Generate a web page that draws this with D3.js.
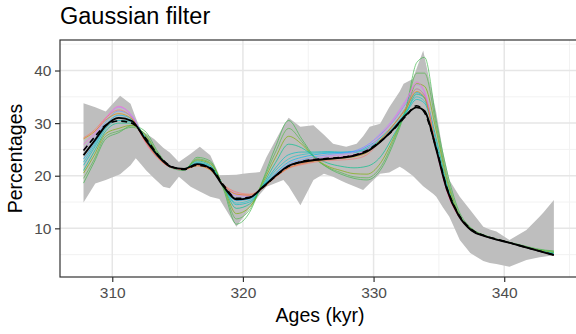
<!DOCTYPE html>
<html>
<head>
<meta charset="utf-8">
<script src="https://cdn.jsdelivr.net/npm/d3@7"></script>
<style>
  body { margin: 0; background: #fff; }
  svg { display: block; font-family: "Liberation Sans", Arial, sans-serif; }
  .tick text { fill: #4d4d4d; font-size: 15.5px; }
  .tick line { stroke: #333; }
</style>
</head>
<body>
<div id="chart"></div>
<script>
// ages shared by the filtered series (kyr)
const ages = [307.8, 308.6, 309.5, 310.5, 311.5, 312.5, 313.5, 314.5, 315.5, 316.5,
  317.5, 318.5, 319.5, 320.5, 321.5, 322.5, 323.5, 324.5, 325.5, 326.5,
  327.5, 328.5, 329.5, 330.5, 331.5, 332.5, 333.3, 333.9, 334.8, 335.6,
  336.5, 337.5, 338.5, 339.5, 340.5, 341.5, 342.5, 343.8];

// mean of filtered runs (solid black) and reference run (dashed black)
const meanLine = [23.9, 26.5, 29.5, 31.0, 30.4, 27.0, 23.8, 21.7, 21.3, 22.2,
  21.4, 18.0, 15.5, 15.8, 17.8, 20.0, 21.9, 22.6, 23.0, 23.2,
  23.4, 23.8, 24.6, 26.4, 28.8, 31.6, 33.0, 32.3, 25.0, 17.5,
  12.5, 9.6, 8.5, 7.8, 7.2, 6.5, 5.8, 4.9];
const dashLine = [24.8, 27.2, 29.6, 30.4, 30.0, 27.3, 24.0, 21.8, 21.2, 22.0,
  21.5, 18.3, 15.7, 15.9, 17.7, 19.9, 21.8, 22.7, 23.1, 23.3,
  23.5, 23.9, 24.8, 26.5, 28.7, 31.4, 33.3, 32.0, 25.2, 17.8,
  12.7, 9.8, 8.6, 7.9, 7.2, 6.5, 5.8, 5.0];

// individual filtered runs
const runs = [
  [18.6, 22.5, 27.0, 28.2, 29.5, 28.5, 24.5, 21.5, 21.0, 23.5, 22.8, 17.5, 10.8, 13.0, 19.0, 25.5, 30.5, 27.0, 23.5, 21.5, 20.3, 19.5, 19.2, 21.0, 26.0, 33.0, 41.5, 42.5, 30.5, 21.0, 13.5, 10.0, 8.7, 7.9, 7.3, 6.7, 6.1, 5.7],
  [19.5, 23.0, 27.5, 28.5, 29.2, 28.0, 24.2, 21.6, 21.2, 23.2, 22.5, 17.8, 11.8, 13.5, 18.8, 24.5, 29.0, 26.5, 23.3, 21.6, 20.6, 19.8, 19.6, 21.5, 26.5, 33.0, 39.5, 39.5, 29.5, 20.0, 13.0, 9.9, 8.6, 7.8, 7.2, 6.6, 6.0, 5.6],
  [20.5, 23.8, 28.0, 29.0, 29.6, 27.8, 24.0, 21.6, 21.3, 23.0, 22.3, 18.0, 12.8, 14.0, 18.5, 23.5, 27.5, 26.0, 23.4, 21.8, 21.0, 20.4, 20.3, 22.3, 27.0, 32.5, 37.5, 37.0, 28.5, 19.3, 12.7, 9.8, 8.6, 7.8, 7.2, 6.5, 5.9, 5.4],
  [21.0, 24.5, 28.5, 30.0, 30.0, 27.5, 23.9, 21.6, 21.3, 22.8, 22.0, 18.0, 13.8, 14.6, 18.2, 22.5, 26.0, 25.3, 23.6, 22.4, 21.8, 21.5, 21.8, 23.5, 27.5, 32.0, 35.5, 34.8, 27.0, 18.5, 12.5, 9.7, 8.6, 7.8, 7.2, 6.5, 5.8, 5.3],
  [22.0, 25.2, 29.0, 30.5, 30.3, 27.3, 23.8, 21.7, 21.3, 22.5, 21.8, 18.1, 14.5, 15.0, 18.0, 21.5, 24.0, 24.5, 24.5, 24.6, 24.5, 24.6, 25.2, 26.8, 29.0, 32.0, 34.5, 33.8, 26.0, 18.0, 12.4, 9.6, 8.5, 7.8, 7.2, 6.5, 5.8, 5.2],
  [22.6, 25.6, 29.3, 31.0, 30.6, 27.2, 23.7, 21.6, 21.2, 22.4, 21.6, 18.0, 14.8, 15.3, 18.0, 21.0, 23.2, 24.0, 24.3, 24.4, 24.3, 24.4, 25.0, 26.8, 29.2, 32.3, 35.0, 34.2, 25.8, 17.8, 12.3, 9.6, 8.5, 7.8, 7.2, 6.5, 5.8, 5.1],
  [23.2, 26.0, 29.6, 31.5, 30.8, 27.0, 23.6, 21.6, 21.2, 22.3, 21.5, 18.1, 15.3, 15.6, 17.9, 20.5, 22.6, 23.5, 24.0, 24.3, 24.4, 24.6, 25.5, 27.2, 29.6, 33.0, 35.8, 34.8, 25.5, 17.6, 12.4, 9.6, 8.5, 7.8, 7.2, 6.5, 5.8, 5.0],
  [24.0, 26.7, 30.2, 32.3, 31.2, 26.8, 23.5, 21.6, 21.2, 22.2, 21.4, 18.1, 15.7, 15.8, 17.8, 20.2, 22.2, 23.0, 23.6, 24.0, 24.3, 24.7, 25.8, 27.8, 30.3, 33.8, 36.5, 35.3, 25.3, 17.4, 12.4, 9.6, 8.5, 7.8, 7.2, 6.5, 5.8, 5.0],
  [25.0, 27.5, 30.8, 33.0, 31.5, 26.6, 23.4, 21.6, 21.2, 22.1, 21.3, 18.1, 16.2, 16.1, 17.7, 20.0, 21.8, 22.6, 23.2, 23.7, 24.0, 24.5, 25.7, 28.0, 30.8, 34.5, 37.3, 35.8, 25.0, 17.2, 12.3, 9.6, 8.5, 7.8, 7.2, 6.5, 5.8, 4.9],
  [26.0, 28.0, 31.0, 33.2, 31.3, 26.5, 23.3, 21.6, 21.2, 22.0, 21.2, 18.2, 16.6, 16.3, 17.6, 19.8, 21.5, 22.3, 22.9, 23.3, 23.6, 24.0, 25.0, 27.5, 30.5, 34.2, 37.8, 36.0, 25.0, 17.1, 12.3, 9.6, 8.5, 7.8, 7.2, 6.5, 5.8, 4.9],
  [27.2, 28.6, 31.0, 32.5, 31.0, 26.5, 23.3, 21.6, 21.2, 21.9, 21.1, 18.3, 16.9, 16.5, 17.6, 19.7, 21.4, 22.1, 22.6, 22.9, 23.0, 23.2, 24.0, 26.5, 29.5, 33.0, 36.5, 35.2, 25.0, 17.2, 12.3, 9.6, 8.5, 7.8, 7.2, 6.5, 5.8, 4.9],
  [27.0, 28.3, 30.6, 31.8, 30.8, 26.7, 23.4, 21.6, 21.2, 21.9, 21.1, 18.2, 16.5, 16.3, 17.6, 19.8, 21.5, 22.3, 22.8, 23.1, 23.3, 23.6, 24.4, 26.8, 29.6, 32.8, 36.0, 34.8, 25.2, 17.4, 12.4, 9.6, 8.5, 7.8, 7.2, 6.5, 5.8, 5.0]
];
const runColors = ['#3fb54a', '#52b847', '#7cae00', '#00c08b', '#00bfc4', '#1cc3c9',
  '#00b4f0', '#619cff', '#c77cff', '#f564e3', '#f8766d', '#de8c00'];

// grey envelope
const ribbonAges = [307.8, 308.7, 309.5, 310.6, 311.4, 311.8, 312.2, 312.6, 313.2, 313.9,
  314.4, 315.1, 316.0, 316.7, 317.5, 318.2, 319.5, 320.0, 320.5, 321.3,
  321.8, 323.1, 323.5, 324.4, 325.4, 326.2, 326.9, 327.4, 327.9, 328.7,
  329.2, 329.7, 330.5, 331.2, 332.0, 332.3, 333.0, 333.8, 334.6, 334.8,
  335.3, 335.8, 336.6, 337.4, 338.4, 338.9, 339.4, 340.4, 341.7, 342.7,
  343.0, 343.8];
const ribbonHigh = [33.8, 33.0, 32.2, 35.2, 33.7, 31.0, 28.6, 28.0, 27.0, 25.3,
  24.4, 22.6, 24.2, 25.5, 23.9, 20.1, 20.2, 20.4, 20.5, 20.7,
  23.5, 29.5, 31.0, 29.3, 29.6, 27.8, 26.1, 25.8, 25.5, 26.1,
  27.5, 29.3, 29.9, 33.0, 36.0, 37.5, 38.4, 43.8, 34.3, 32.0,
  24.8, 19.2, 16.0, 13.5, 10.3, 9.8, 9.4, 7.8, 9.7, 12.2,
  13.0, 15.4];
const ribbonLow = [14.9, 18.5, 19.2, 20.3, 22.0, 23.3, 22.2, 21.0, 19.5, 17.9,
  17.6, 19.8, 17.9, 17.0, 16.0, 15.6, 10.3, 12.0, 13.8, 16.5,
  17.9, 19.2, 18.0, 14.4, 19.2, 20.4, 19.8, 19.2, 18.6, 17.8,
  17.3, 18.5, 20.4, 20.6, 21.7, 21.3, 20.0, 18.0, 16.5, 16.0,
  14.0, 12.2, 7.8, 5.3, 3.8, 3.4, 3.2, 2.7, 4.0, 4.5,
  4.6, 4.9];

const xTicks = [310, 320, 330, 340];
const xMinor = [315, 325, 335, 345];
const yTicks = [10, 20, 30, 40];
const yMinor = [5, 15, 25, 35, 45];

const W = 576, H = 334;
const panel = { left: 60, right: 580, top: 40, bottom: 277 };

const svg = d3.select('#chart').append('svg')
  .attr('width', W)
  .attr('height', H);

const x = d3.scaleLinear().domain([306.0, 345.8]).range([panel.left, panel.right]);
const y = d3.scaleLinear().domain([0.75, 45.8]).range([panel.bottom, panel.top]);

svg.append('defs').append('clipPath')
  .attr('id', 'clip')
  .append('rect')
  .attr('x', panel.left)
  .attr('y', panel.top)
  .attr('width', panel.right - panel.left)
  .attr('height', panel.bottom - panel.top);

const plot = svg.append('g').attr('clip-path', 'url(#clip)');

// grid
plot.selectAll('.minor-x').data(xMinor).enter().append('line')
  .attr('x1', d => x(d)).attr('x2', d => x(d))
  .attr('y1', panel.top).attr('y2', panel.bottom)
  .attr('stroke', '#f2f2f2').attr('stroke-width', 1);
plot.selectAll('.minor-y').data(yMinor).enter().append('line')
  .attr('x1', panel.left).attr('x2', panel.right)
  .attr('y1', d => y(d)).attr('y2', d => y(d))
  .attr('stroke', '#f2f2f2').attr('stroke-width', 1);
plot.selectAll('.major-x').data(xTicks).enter().append('line')
  .attr('x1', d => x(d)).attr('x2', d => x(d))
  .attr('y1', panel.top).attr('y2', panel.bottom)
  .attr('stroke', '#e6e6e6').attr('stroke-width', 1.5);
plot.selectAll('.major-y').data(yTicks).enter().append('line')
  .attr('x1', panel.left).attr('x2', panel.right)
  .attr('y1', d => y(d)).attr('y2', d => y(d))
  .attr('stroke', '#e6e6e6').attr('stroke-width', 1.5);

// ribbon
const ribbon = ribbonAges.map((a, i) => ({ a: a, lo: ribbonLow[i], hi: ribbonHigh[i] }));
plot.append('path')
  .datum(ribbon)
  .attr('fill', '#bebebe')
  .attr('d', d3.area().x(d => x(d.a)).y0(d => y(d.lo)).y1(d => y(d.hi)));

const line = d3.line()
  .x((d, i) => x(ages[i]))
  .y(d => y(d))
  .curve(d3.curveMonotoneX);

plot.selectAll('.run').data(runs).enter().append('path')
  .attr('class', 'run')
  .attr('fill', 'none')
  .attr('stroke', (d, i) => runColors[i])
  .attr('stroke-width', 0.9)
  .attr('stroke-opacity', 0.75)
  .attr('d', line);

plot.append('path')
  .datum(dashLine)
  .attr('fill', 'none')
  .attr('stroke', '#000')
  .attr('stroke-width', 1.6)
  .attr('stroke-dasharray', '6,4')
  .attr('d', line);

plot.append('path')
  .datum(meanLine)
  .attr('fill', 'none')
  .attr('stroke', '#000')
  .attr('stroke-width', 1.9)
  .attr('d', line);

// panel border
svg.append('rect')
  .attr('x', panel.left).attr('y', panel.top)
  .attr('width', panel.right - panel.left)
  .attr('height', panel.bottom - panel.top)
  .attr('fill', 'none')
  .attr('stroke', '#333')
  .attr('stroke-width', 1.2);

// axes
const xAxis = svg.append('g')
  .attr('transform', `translate(0,${panel.bottom})`)
  .call(d3.axisBottom(x).tickValues(xTicks).tickSize(5).tickPadding(5).tickFormat(d3.format('d')));
const yAxis = svg.append('g')
  .attr('transform', `translate(${panel.left},0)`)
  .call(d3.axisLeft(y).tickValues(yTicks).tickSize(5).tickPadding(3.5).tickFormat(d3.format('d')));
[xAxis, yAxis].forEach(g => {
  g.select('.domain').remove();
  g.attr('font-family', null).attr('font-size', null);
  g.selectAll('.tick line').attr('stroke', '#333').attr('stroke-width', 1.2);
});

// titles
svg.append('text')
  .attr('x', 60).attr('y', 24)
  .attr('font-size', 23.5)
  .attr('fill', '#000')
  .text('Gaussian filter');

svg.append('text')
  .attr('x', (panel.left + panel.right) / 2).attr('y', 322)
  .attr('text-anchor', 'middle')
  .attr('font-size', 19.5)
  .attr('fill', '#000')
  .text('Ages (kyr)');

svg.append('text')
  .attr('transform', `translate(22,${(panel.top + panel.bottom) / 2}) rotate(-90)`)
  .attr('text-anchor', 'middle')
  .attr('font-size', 19.5)
  .attr('fill', '#000')
  .text('Percentages');
</script>
</body>
</html>
